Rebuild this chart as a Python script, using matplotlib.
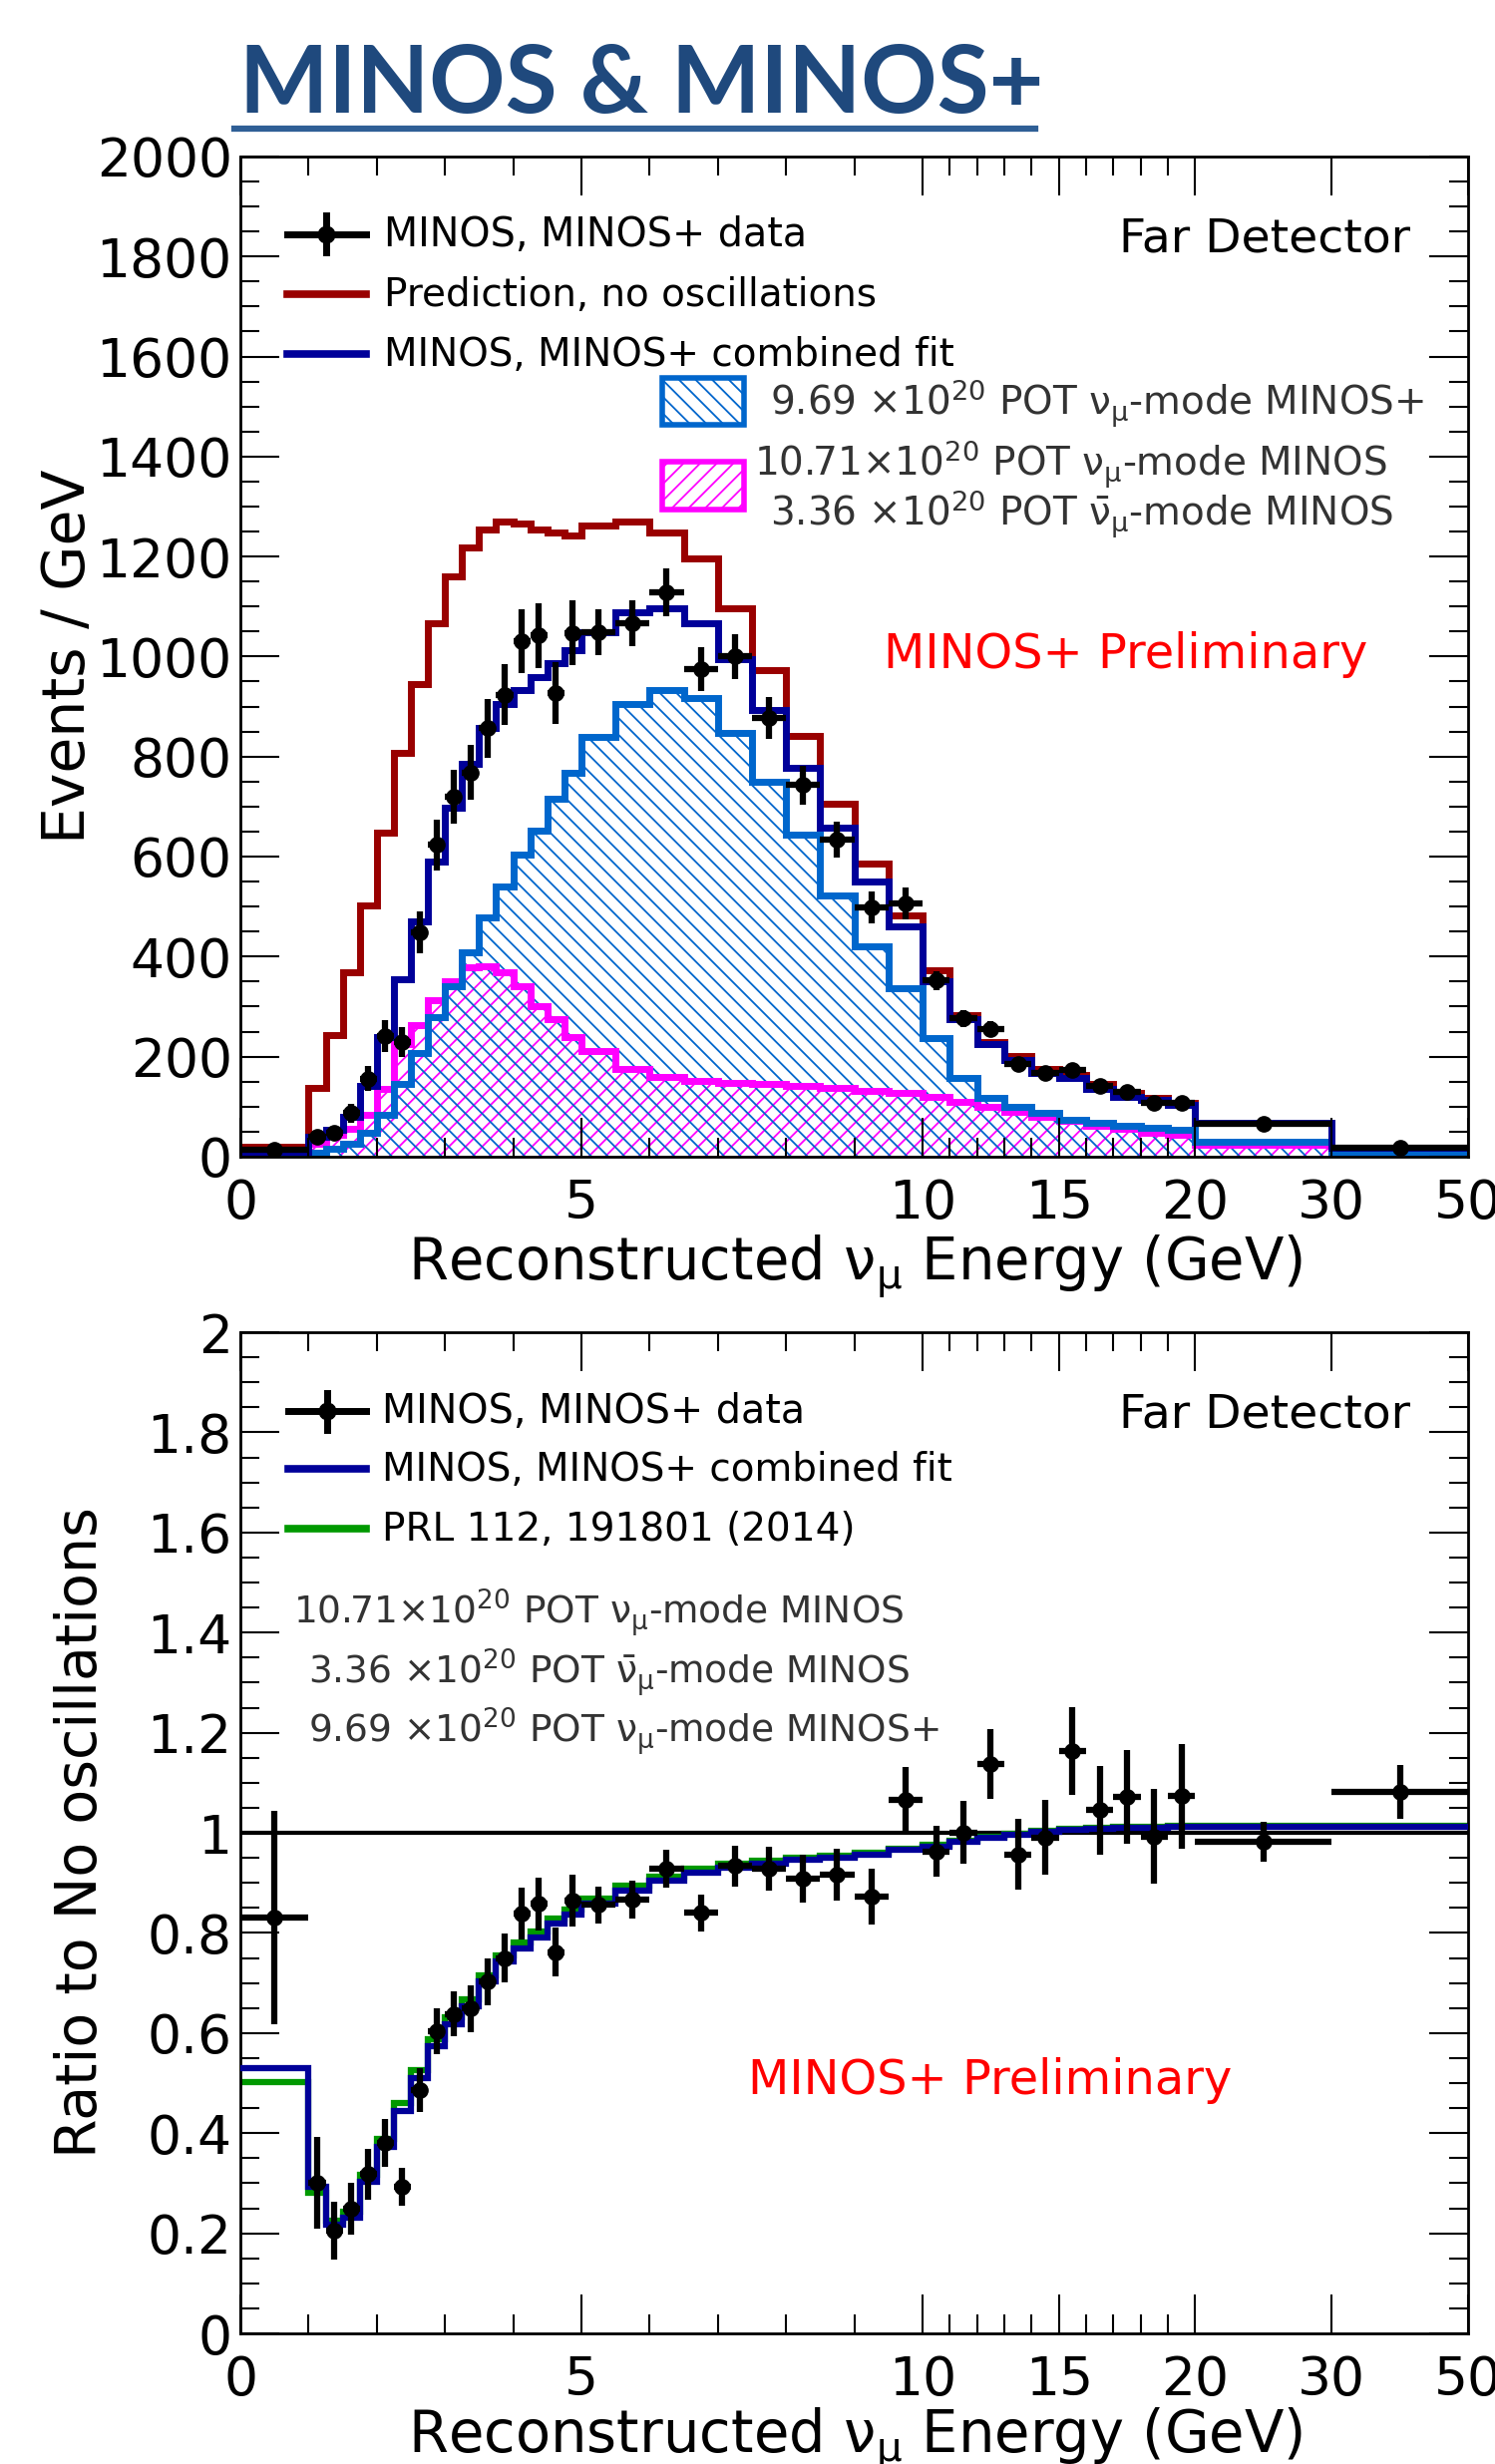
import numpy as np
import matplotlib
matplotlib.use("Agg")
import matplotlib.pyplot as plt
from matplotlib.lines import Line2D
from matplotlib.patches import Rectangle
from matplotlib.ticker import MultipleLocator, FuncFormatter

plt.rcParams["font.family"] = ["DejaVu Sans"]
plt.rcParams["mathtext.fontset"] = "dejavusans"
plt.rcParams["hatch.linewidth"] = 1.3

# ---- binning (GeV) ----
bin_edges = [0, 1, 1.25, 1.5, 1.75, 2, 2.25, 2.5, 2.75, 3, 3.25, 3.5, 3.75, 4,
             4.25, 4.5, 4.75, 5, 5.5, 6, 6.5, 7, 7.5, 8, 8.5, 9, 9.5, 10,
             11, 12, 13, 14, 15, 16, 17, 18, 19, 20, 30, 50]

# ---- top panel: events / GeV ----
no_osc = [20, 138, 243, 368, 503, 648, 808, 944, 1066, 1160, 1218, 1255, 1269,
          1267, 1254, 1249, 1243, 1262, 1269, 1249, 1197, 1097, 973, 841, 706,
          586, 483, 372, 283, 230, 201, 175, 163, 145, 127, 117, 108, 68, 17]
comb_fit = [10, 40, 53, 80, 142, 240, 354, 470, 590, 697, 786, 857, 906,
            933, 959, 986, 1013, 1048, 1088, 1097, 1066, 995, 893, 777, 657,
            550, 461, 350, 274, 225, 194, 167, 158, 136, 120, 113, 103, 67, 17]
minos_plus = [5, 7, 16, 25, 47, 83, 145, 207, 279, 341, 408, 479, 541,
              603, 652, 715, 768, 839, 906, 933, 917, 848, 750, 643, 523,
              421, 336, 238, 158, 118, 99, 87, 74, 67, 62, 58, 53, 30, 7]
minos = [4, 25, 43, 56, 83, 136, 225, 262, 312, 350, 378, 381, 368,
         341, 301, 274, 239, 212, 176, 160, 152, 148, 145, 141, 137,
         132, 127, 120, 110, 100, 90, 80, 71, 62, 55, 48, 43, 23, 5]
data = [14, 40, 47, 87, 156, 241, 230, 448, 623, 719, 768, 857, 924,
        1031, 1042, 927, 1047, 1048, 1066, 1129, 975, 1000, 878, 743, 633,
        499, 506, 352, 276, 255, 185, 167, 174, 141, 129, 108, 108, 66, 17]
data_err = [3.7, 12.6, 13.7, 18.7, 25, 31, 30, 42, 50, 54, 55, 59, 61,
            64, 65, 61, 65, 46, 46, 48, 44, 45, 42, 39, 36,
            32, 32, 19, 17, 16, 14, 13, 13, 12, 11, 10, 10, 2.6, 0.9]

# ---- bottom panel: ratio to no oscillations ----
ratio_data = [0.831, 0.301, 0.205, 0.249, 0.318, 0.380, 0.293, 0.486, 0.603,
              0.638, 0.649, 0.703, 0.750, 0.838, 0.858, 0.762, 0.865, 0.856,
              0.867, 0.929, 0.840, 0.934, 0.929, 0.908, 0.916, 0.872, 1.066,
              0.963, 1.001, 1.137, 0.957, 0.991, 1.164, 1.045, 1.072, 0.993,
              1.073, 0.983, 1.081]
ratio_err = [0.213, 0.091, 0.058, 0.051, 0.051, 0.048, 0.037, 0.044, 0.046,
             0.045, 0.047, 0.047, 0.049, 0.052, 0.053, 0.049, 0.052, 0.037,
             0.038, 0.038, 0.037, 0.041, 0.044, 0.048, 0.052, 0.056, 0.065,
             0.051, 0.062, 0.070, 0.071, 0.075, 0.088, 0.088, 0.094, 0.095,
             0.105, 0.040, 0.054]
ratio_fit = [0.529, 0.293, 0.218, 0.231, 0.302, 0.373, 0.445, 0.511, 0.574,
             0.618, 0.654, 0.703, 0.743, 0.769, 0.791, 0.818, 0.836, 0.858,
             0.885, 0.904, 0.920, 0.931, 0.938, 0.946, 0.950, 0.956, 0.966,
             0.973, 0.983, 0.990, 0.997, 1.003, 1.007, 1.009, 1.010, 1.011,
             1.013, 1.013, 1.013]
ratio_prl = [0.502, 0.280, 0.225, 0.244, 0.316, 0.388, 0.460, 0.526, 0.588,
             0.632, 0.667, 0.715, 0.755, 0.781, 0.803, 0.829, 0.847, 0.869,
             0.895, 0.913, 0.928, 0.938, 0.944, 0.951, 0.955, 0.960, 0.969,
             0.976, 0.985, 0.992, 0.999, 1.005, 1.009, 1.011, 1.012, 1.013,
             1.014, 1.014, 1.014]

major_ticks = [0, 5, 10, 15, 20, 30, 50]
minor_ticks = [1, 2, 3, 4, 6, 7, 8, 9, 11, 12, 13, 14, 16, 17, 18, 19]

# piecewise linear energy axis (0-10 full, 10-20 x0.4, 20-30 x0.2, 30-50 x0.1)
E_KNOTS = [0, 10, 20, 30, 50]
U_KNOTS = [0, 10, 14, 16, 18]


def fwd(x):
    return np.interp(x, E_KNOTS, U_KNOTS)


def inv(u):
    return np.interp(u, U_KNOTS, E_KNOTS)


C_RED = "#990000"
C_FIT = "#000099"
C_MPLUS = "#0066CC"
C_MINOS = "#FF00FF"
C_PRL = "#009900"
C_POT = "#333333"

edges = np.array(bin_edges, dtype=float)
centers = 0.5 * (edges[:-1] + edges[1:])
halfw = 0.5 * np.diff(edges)

fig = plt.figure(figsize=(14.99, 24.71), dpi=100)
ax1 = fig.add_axes([0.1608, 0.5306, 0.8212, 0.4059])
ax2 = fig.add_axes([0.1608, 0.0530, 0.8212, 0.4063])


def style_axis(ax, ymax, ymajor, yminor):
    ax.set_xscale("function", functions=(fwd, inv))
    ax.set_xlim(0, 50)
    ax.set_ylim(0, ymax)
    ax.set_xticks(major_ticks)
    ax.set_xticks(minor_ticks, minor=True)
    ax.set_xticklabels([str(t) for t in major_ticks])
    ax.yaxis.set_major_locator(MultipleLocator(ymajor))
    ax.yaxis.set_minor_locator(MultipleLocator(yminor))
    ax.yaxis.set_major_formatter(FuncFormatter(lambda v, p: f"{v:g}"))
    ax.tick_params(which="both", direction="in", top=True, right=True,
                   width=1.5, labelsize=38.5)
    ax.tick_params(which="major", length=28)
    ax.tick_params(which="minor", length=14)
    ax.tick_params(axis="x", pad=15)
    ax.tick_params(axis="y", pad=6)
    for s in ax.spines.values():
        s.set_linewidth(2)


def line_handle(ax, x0, x1, y, color):
    ax.add_line(Line2D([x0, x1], [y, y], transform=ax.transAxes,
                       color=color, lw=5.5, clip_on=False))


def data_handle(ax, x0, x1, y, dy):
    xm = 0.5 * (x0 + x1)
    ax.add_line(Line2D([x0, x1], [y, y], transform=ax.transAxes,
                       color="black", lw=5, clip_on=False))
    ax.add_line(Line2D([xm, xm], [y - dy, y + dy], transform=ax.transAxes,
                       color="black", lw=5, clip_on=False))
    ax.add_line(Line2D([xm], [y], transform=ax.transAxes, marker="o", ms=12,
                       color="black", clip_on=False))


nu_mu = r"$\mathrm{\nu_{\mu}}$"
nubar_mu = r"$\mathrm{\bar{\nu}_{\mu}}$"
e20 = r"$\times\mathrm{10^{20}}$"
xlabel = "Reconstructed " + nu_mu + " Energy (GeV)"

# ================= top panel =================
style_axis(ax1, 2000, 200, 50)

ax1.stairs(minos, edges, fill=True, facecolor="none", edgecolor=C_MINOS,
           hatch="//", linewidth=0)
ax1.stairs(minos_plus, edges, fill=True, facecolor="none", edgecolor=C_MPLUS,
           hatch="\\\\", linewidth=0)
ax1.stairs(minos, edges, baseline=None, color=C_MINOS, lw=5)
ax1.stairs(minos_plus, edges, baseline=None, color=C_MPLUS, lw=5)
ax1.stairs(no_osc, edges, baseline=None, color=C_RED, lw=5)
ax1.stairs(comb_fit, edges, baseline=None, color=C_FIT, lw=5)
ax1.errorbar(centers, data, xerr=halfw, yerr=data_err, fmt="o", color="black",
             ms=11, elinewidth=4.5, capsize=0, zorder=6)

ax1.set_ylabel("Events / GeV", fontsize=42)
ax1.yaxis.set_label_coords(-0.117, 0.5)
ax1.set_xlabel(xlabel, fontsize=41.5)
ax1.xaxis.set_label_coords(0.501, -0.0770)

# legend
data_handle(ax1, 0.038, 0.1024, 0.9222, 0.0184)
line_handle(ax1, 0.038, 0.1024, 0.8624, C_RED)
line_handle(ax1, 0.038, 0.1024, 0.8026, C_FIT)
ax1.text(0.117, 0.9103, "MINOS, MINOS+ data", transform=ax1.transAxes,
         fontsize=28.5, va="baseline")
ax1.text(0.117, 0.8505, "Prediction, no oscillations", transform=ax1.transAxes,
         fontsize=28, va="baseline")
ax1.text(0.117, 0.7906, "MINOS, MINOS+ combined fit", transform=ax1.transAxes,
         fontsize=28, va="baseline")

ax1.add_patch(Rectangle((0.3436, 0.7318), 0.0666, 0.0469, transform=ax1.transAxes,
                        facecolor="none", edgecolor=C_MPLUS, hatch="\\\\", lw=4,
                        clip_on=False))
ax1.add_patch(Rectangle((0.3436, 0.647), 0.0666, 0.048, transform=ax1.transAxes,
                        facecolor="none", edgecolor=C_MINOS, hatch="//", lw=4,
                        clip_on=False))
ax1.text(0.4314, 0.7408, "9.69 " + e20 + " POT " + nu_mu + "-mode MINOS+",
         transform=ax1.transAxes, fontsize=28, color=C_POT, va="baseline")
ax1.text(0.4184, 0.680, "10.71" + e20 + " POT " + nu_mu + "-mode MINOS",
         transform=ax1.transAxes, fontsize=28, color=C_POT, va="baseline")
ax1.text(0.4314, 0.630, "3.36 " + e20 + " POT " + nubar_mu + "-mode MINOS",
         transform=ax1.transAxes, fontsize=28, color=C_POT, va="baseline")

ax1.text(0.953, 0.905, "Far Detector", transform=ax1.transAxes, fontsize=34,
         ha="right", va="baseline")
ax1.text(0.7214, 0.4885, "MINOS+ Preliminary", transform=ax1.transAxes,
         fontsize=34.5, color="red", ha="center", va="baseline")

# ================= bottom panel =================
style_axis(ax2, 2, 0.2, 0.05)

ax2.axhline(1, color="black", lw=3, zorder=1)
ax2.stairs(ratio_prl, edges, baseline=None, color=C_PRL, lw=4.5, zorder=2)
ax2.stairs(ratio_fit, edges, baseline=None, color=C_FIT, lw=4.5, zorder=3)
ax2.errorbar(centers, ratio_data, xerr=halfw, yerr=ratio_err, fmt="o",
             color="black", ms=11, elinewidth=4.5, capsize=0, zorder=6)

ax2.set_ylabel("Ratio to No oscillations", fontsize=41)
ax2.yaxis.set_label_coords(-0.107, 0.5)
ax2.set_xlabel(xlabel, fontsize=41.5)
ax2.xaxis.set_label_coords(0.501, -0.0720)

data_handle(ax2, 0.039, 0.1024, 0.9213, 0.0184)
line_handle(ax2, 0.039, 0.1024, 0.8632, C_FIT)
line_handle(ax2, 0.039, 0.1024, 0.8035, C_PRL)
ax2.text(0.1154, 0.9094, "MINOS, MINOS+ data", transform=ax2.transAxes,
         fontsize=28.5, va="baseline")
ax2.text(0.1154, 0.8516, "MINOS, MINOS+ combined fit", transform=ax2.transAxes,
         fontsize=28, va="baseline")
ax2.text(0.1154, 0.7918, "PRL 112, 191801 (2014)", transform=ax2.transAxes,
         fontsize=28, va="baseline")

ax2.text(0.0431, 0.7092, "10.71" + e20 + " POT " + nu_mu + "-mode MINOS",
         transform=ax2.transAxes, fontsize=27, color=C_POT, va="baseline")
ax2.text(0.0552, 0.6494, "3.36 " + e20 + " POT " + nubar_mu + "-mode MINOS",
         transform=ax2.transAxes, fontsize=27, color=C_POT, va="baseline")
ax2.text(0.0552, 0.5906, "9.69 " + e20 + " POT " + nu_mu + "-mode MINOS+",
         transform=ax2.transAxes, fontsize=27, color=C_POT, va="baseline")

ax2.text(0.953, 0.9054, "Far Detector", transform=ax2.transAxes, fontsize=34,
         ha="right", va="baseline")
ax2.text(0.611, 0.239, "MINOS+ Preliminary", transform=ax2.transAxes,
         fontsize=34.5, color="red", ha="center", va="baseline")

# ================= title =================
fig.text(240 / 1499, 1 - 113 / 2471, "MINOS & MINOS+", fontsize=68,
         fontweight="bold", family=["Lato", "DejaVu Sans"], color="#1F497D",
         va="baseline")
fig.add_artist(Line2D([235 / 1499, 1038 / 1499], [1 - 129 / 2471, 1 - 129 / 2471],
                      transform=fig.transFigure, color="#2F5F96", lw=4.5))

fig.savefig("out.png", dpi=100)
